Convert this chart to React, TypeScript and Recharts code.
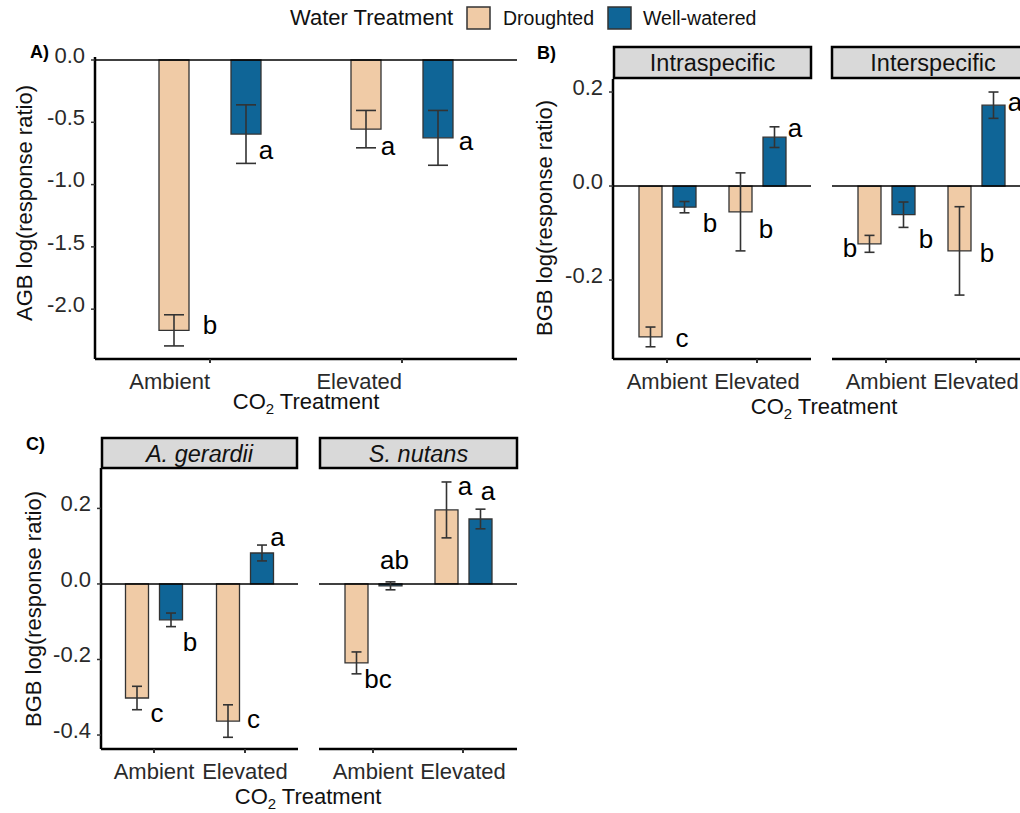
import React from "react";
import {
  ComposedChart,
  Bar,
  XAxis,
  YAxis,
  ErrorBar,
  ReferenceLine,
  Scatter,
} from "recharts";

const FONT = '"Liberation Sans", Arial, Helvetica, sans-serif';
const DROUGHT_FILL = "#F0CBA6";
const WATERED_FILL = "#0F6597";
const OUTLINE = "#333333";
const TEXT = "#2a2a2a";

const co2Levels = ["Ambient", "Elevated"];

// A) aboveground biomass, log response ratio (mean, SE) and Tukey letters
const agbDrought = [-2.17, -0.555];
const agbDroughtSE = [0.125, 0.15];
const agbWatered = [-0.595, -0.625];
const agbWateredSE = [0.235, 0.22];
const agbDroughtLetters = ["b", "a"];
const agbWateredLetters = ["a", "a"];
const agbDroughtLetterY = [-2.2, -0.762];
const agbWateredLetterY = [-0.795, -0.722];
const agbTicks = [0, -0.5, -1, -1.5, -2];

// B) belowground biomass by competition type
const intraDrought = [-0.321, -0.055];
const intraDroughtSE = [0.021, 0.083];
const intraWatered = [-0.045, 0.104];
const intraWateredSE = [0.012, 0.022];
const intraDroughtLetters = ["c", "b"];
const intraWateredLetters = ["b", "a"];
const intraDroughtLetterY = [-0.343, -0.11];
const intraWateredLetterY = [-0.098, 0.104];

const interDrought = [-0.123, -0.138];
const interDroughtSE = [0.018, 0.094];
const interWatered = [-0.061, 0.172];
const interWateredSE = [0.027, 0.028];
const interDroughtLetters = ["b", "b"];
const interWateredLetters = ["b", "a"];
const interDroughtLetterY = [-0.151, -0.162];
const interWateredLetterY = [-0.132, 0.16];
const bgbTicks = [-0.2, 0, 0.2];

// C) belowground biomass by species
const gerDrought = [-0.302, -0.363];
const gerDroughtSE = [0.031, 0.043];
const gerWatered = [-0.095, 0.082];
const gerWateredSE = [0.018, 0.021];
const gerDroughtLetters = ["c", "c"];
const gerWateredLetters = ["b", "a"];
const gerDroughtLetterY = [-0.366, -0.381];
const gerWateredLetterY = [-0.177, 0.1];

const nutDrought = [-0.209, 0.196];
const nutDroughtSE = [0.029, 0.074];
const nutWatered = [-0.005, 0.172];
const nutWateredSE = [0.0105, 0.026];
const nutDroughtLetters = ["bc", "a"];
const nutWateredLetters = ["ab", "a"];
const nutDroughtLetterY = [-0.275, 0.236];
const nutWateredLetterY = [0.04, 0.222];
const speciesTicks = [-0.4, -0.2, 0, 0.2];

type Row = {
  co2: string;
  dry: number;
  drySE: number;
  wet: number;
  wetSE: number;
  dryTag: string;
  wetTag: string;
  dryTagY: number;
  wetTagY: number;
  i: number;
};

function buildRows(
  dry: number[],
  drySE: number[],
  wet: number[],
  wetSE: number[],
  dryTags: string[],
  wetTags: string[],
  dryTagY: number[],
  wetTagY: number[]
): Row[] {
  return co2Levels.map((co2, i) => ({
    co2,
    dry: dry[i],
    drySE: drySE[i],
    wet: wet[i],
    wetSE: wetSE[i],
    dryTag: dryTags[i],
    wetTag: wetTags[i],
    dryTagY: dryTagY[i],
    wetTagY: wetTagY[i],
    i,
  }));
}

const agbRows = buildRows(agbDrought, agbDroughtSE, agbWatered, agbWateredSE, agbDroughtLetters, agbWateredLetters, agbDroughtLetterY, agbWateredLetterY);
const intraRows = buildRows(intraDrought, intraDroughtSE, intraWatered, intraWateredSE, intraDroughtLetters, intraWateredLetters, intraDroughtLetterY, intraWateredLetterY);
const interRows = buildRows(interDrought, interDroughtSE, interWatered, interWateredSE, interDroughtLetters, interWateredLetters, interDroughtLetterY, interWateredLetterY);
const gerRows = buildRows(gerDrought, gerDroughtSE, gerWatered, gerWateredSE, gerDroughtLetters, gerWateredLetters, gerDroughtLetterY, gerWateredLetterY);
const nutRows = buildRows(nutDrought, nutDroughtSE, nutWatered, nutWateredSE, nutDroughtLetters, nutWateredLetters, nutDroughtLetterY, nutWateredLetterY);

type PanelSpec = {
  rows: Row[];
  x0: number;
  x1: number;
  y0: number;
  y1: number;
  domain: [number, number];
  ticks?: number[];
  pad: number;
  barSize: number;
  barGap: number;
  cap: number;
  tickAnchor: "middle" | "end";
  dryNudge: number[];
  wetNudge: number[];
};

const XTick = (props: any) => {
  const { x, y, payload, anchor } = props;
  return (
    <text x={x} y={y} dy="0.71em" textAnchor={anchor} fontSize={22} fill={TEXT} fontFamily={FONT}>
      {payload.value}
    </text>
  );
};

const YTick = (props: any) => {
  const { x, y, payload } = props;
  return (
    <text x={x} y={y - 5} dy="0.355em" textAnchor="end" fontSize={22} fill={TEXT} fontFamily={FONT}>
      {Number(payload.value).toFixed(1)}
    </text>
  );
};

// letter labels sit beside each bar: side offset of the dodged bar plus a small nudge
const tagShape = (key: "dryTag" | "wetTag", side: number, nudge: number[]) => (props: any) => {
  const { cx, cy, payload } = props;
  if (cx == null || cy == null) return <g />;
  return (
    <text x={cx + side + nudge[payload.i]} y={cy} textAnchor="middle" fontSize={26} fill="#000" fontFamily={FONT}>
      {payload[key]}
    </text>
  );
};

function Panel(p: PanelSpec) {
  const axisW = p.ticks ? 70 : 0;
  const top = 20;
  const right = 4;
  const xAxisH = 44;
  const width = p.x1 - p.x0 + axisW + right;
  const height = p.y1 - p.y0 + top + xAxisH;
  const half = (p.barSize + p.barGap) / 2;
  return (
    <div style={{ position: "absolute", left: p.x0 - axisW, top: p.y0 - top }}>
      <ComposedChart
        width={width}
        height={height}
        data={p.rows}
        margin={{ top, right, left: 0, bottom: 0 }}
        barSize={p.barSize}
        barGap={p.barGap}
      >
        <XAxis
          dataKey="co2"
          type="category"
          interval={0}
          padding={{ left: p.pad, right: p.pad }}
          height={xAxisH}
          axisLine={{ stroke: "#000", strokeWidth: 2.5 }}
          tickLine={{ stroke: "#333", strokeWidth: 2 }}
          tickSize={4}
          tickMargin={10}
          tick={(tp: any) => <XTick {...tp} anchor={p.tickAnchor} />}
        />
        <YAxis
          type="number"
          domain={p.domain}
          allowDataOverflow
          hide={!p.ticks}
          ticks={p.ticks}
          interval={0}
          width={axisW}
          axisLine={{ stroke: "#000", strokeWidth: 2.5 }}
          tickLine={{ stroke: "#333", strokeWidth: 1.5 }}
          tickSize={4}
          tickMargin={6}
          tick={(tp: any) => <YTick {...tp} />}
        />
        <ReferenceLine y={0} stroke="#000" strokeWidth={1.5} ifOverflow="extendDomain" />
        <Bar dataKey="dry" fill={DROUGHT_FILL} stroke={OUTLINE} strokeWidth={1.3} isAnimationActive={false}>
          <ErrorBar dataKey="drySE" width={p.cap} stroke="#333" strokeWidth={1.6} direction="y" />
        </Bar>
        <Bar dataKey="wet" fill={WATERED_FILL} stroke={OUTLINE} strokeWidth={1.3} isAnimationActive={false}>
          <ErrorBar dataKey="wetSE" width={p.cap} stroke="#333" strokeWidth={1.6} direction="y" />
        </Bar>
        <Scatter dataKey="dryTagY" isAnimationActive={false} shape={tagShape("dryTag", -half, p.dryNudge)} />
        <Scatter dataKey="wetTagY" isAnimationActive={false} shape={tagShape("wetTag", half, p.wetNudge)} />
      </ComposedChart>
    </div>
  );
}

const Strip = ({ x0, x1, y0, y1, label, italic }: { x0: number; x1: number; y0: number; y1: number; label: string; italic?: boolean }) => (
  <g>
    <rect x={x0} y={y0} width={x1 - x0} height={y1 - y0} fill="#D9D9D9" stroke="#000" strokeWidth={2.5} />
    <text
      x={(x0 + x1) / 2}
      y={(y0 + y1) / 2 + 8.5}
      textAnchor="middle"
      fontSize={23.5}
      fontStyle={italic ? "italic" : "normal"}
      fill="#111"
      fontFamily={FONT}
    >
      {label}
    </text>
  </g>
);

const Co2Title = ({ x, y }: { x: number; y: number }) => (
  <text x={x} y={y} textAnchor="middle" fontSize={22} fill="#111" fontFamily={FONT}>
    CO
    <tspan fontSize={15} dy={5}>2</tspan>
    <tspan dy={-5}> Treatment</tspan>
  </text>
);

const YTitle = ({ x, y, label }: { x: number; y: number; label: string }) => (
  <text x={x} y={y} transform={`rotate(-90 ${x} ${y})`} textAnchor="middle" fontSize={22} fill="#111" fontFamily={FONT}>
    {label}
  </text>
);

export default function App() {
  return (
    <div
      style={{
        position: "fixed",
        left: 0,
        top: 0,
        width: 1020,
        height: 813,
        overflow: "hidden",
        background: "#fff",
        fontFamily: FONT,
      }}
    >
      <Panel
        rows={agbRows}
        x0={95}
        x1={517}
        y0={57}
        y1={359}
        domain={[-2.4, 0.024]}
        ticks={agbTicks}
        pad={19}
        barSize={30}
        barGap={42}
        cap={10}
        tickAnchor="end"
        dryNudge={[36, 22]}
        wetNudge={[20, 28]}
      />
      <Panel
        rows={intraRows}
        x0={613}
        x1={811}
        y0={79}
        y1={359}
        domain={[-0.368, 0.2277]}
        ticks={bgbTicks}
        pad={9}
        barSize={23}
        barGap={11}
        cap={5}
        tickAnchor="middle"
        dryNudge={[32, 26]}
        wetNudge={[26, 21]}
      />
      <Panel
        rows={interRows}
        x0={832}
        x1={1030}
        y0={79}
        y1={359}
        domain={[-0.368, 0.2277]}
        pad={9}
        barSize={23}
        barGap={11}
        cap={5}
        tickAnchor="middle"
        dryNudge={[-19, 28]}
        wetNudge={[23, 22]}
      />
      <Panel
        rows={gerRows}
        x0={101}
        x1={298}
        y0={468}
        y1={749}
        domain={[-0.437, 0.307]}
        ticks={speciesTicks}
        pad={7.5}
        barSize={23}
        barGap={11}
        cap={5}
        tickAnchor="middle"
        dryNudge={[20, 25.5]}
        wetNudge={[19, 15.5]}
      />
      <Panel
        rows={nutRows}
        x0={319}
        x1={517}
        y0={468}
        y1={749}
        domain={[-0.437, 0.307]}
        pad={9}
        barSize={23}
        barGap={11}
        cap={5}
        tickAnchor="middle"
        dryNudge={[22, 19]}
        wetNudge={[4.5, 8]}
      />

      <svg
        width={1020}
        height={813}
        style={{ position: "absolute", left: 0, top: 0, pointerEvents: "none" }}
      >
        {/* legend */}
        <text x={290} y={25} fontSize={22} fill="#111" fontFamily={FONT}>Water Treatment</text>
        <rect x={467} y={7} width={23} height={22} fill={DROUGHT_FILL} stroke="#333" strokeWidth={1.5} />
        <text x={503} y={25} fontSize={19.5} fill="#111" fontFamily={FONT}>Droughted</text>
        <rect x={608} y={7} width={23} height={22} fill={WATERED_FILL} stroke="#333" strokeWidth={1.5} />
        <text x={643} y={25} fontSize={19.5} fill="#111" fontFamily={FONT}>Well-watered</text>

        {/* panel tags */}
        <text x={30} y={58} fontSize={18} fontWeight="bold" fill="#000" fontFamily={FONT}>A)</text>
        <text x={537} y={59} fontSize={18} fontWeight="bold" fill="#000" fontFamily={FONT}>B)</text>
        <text x={26} y={450} fontSize={18} fontWeight="bold" fill="#000" fontFamily={FONT}>C)</text>

        {/* facet strips */}
        <Strip x0={614} x1={811} y0={47} y1={78} label="Intraspecific" />
        <Strip x0={832} x1={1034} y0={47} y1={78} label="Interspecific" />
        <Strip x0={102} x1={297} y0={438} y1={468} label="A. gerardii" italic />
        <Strip x0={320} x1={517} y0={438} y1={468} label="S. nutans" italic />

        {/* axis titles */}
        <YTitle x={32} y={203} label="AGB log(response ratio)" />
        <YTitle x={552} y={218} label="BGB log(response ratio)" />
        <YTitle x={41} y={609} label="BGB log(response ratio)" />
        <Co2Title x={306} y={409} />
        <Co2Title x={824} y={414} />
        <Co2Title x={308} y={804} />
      </svg>
    </div>
  );
}
